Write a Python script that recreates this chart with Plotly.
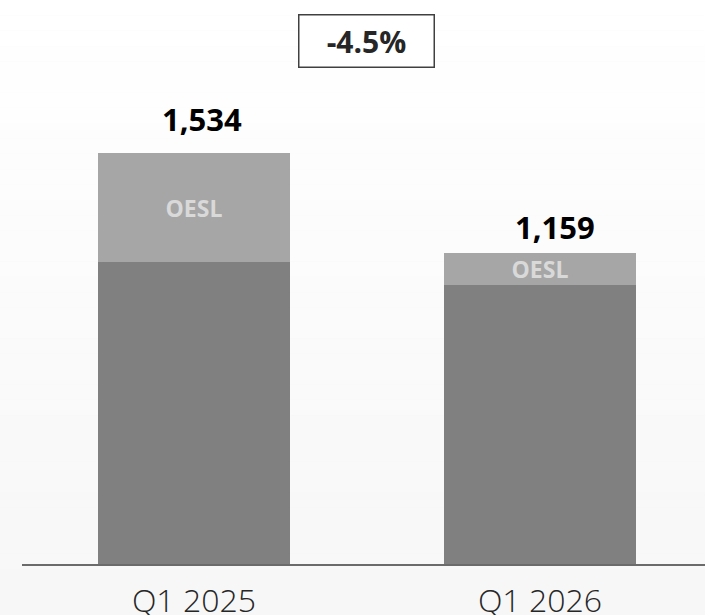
import plotly.graph_objects as go

# values
quarters = ["Q1 2025", "Q1 2026"]
core = [1127, 1040]
oesl = [407, 119]
totals = [1534, 1159]
change_label = "-4.5%"

W, H = 705, 615
FONT = "Open Sans"

fig = go.Figure()
fig.add_trace(go.Bar(
    x=quarters, y=core, name="core",
    marker=dict(color="#808080", line=dict(width=0)),
    width=0.555, hoverinfo="skip",
))
fig.add_trace(go.Bar(
    x=quarters, y=oesl, name="OESL",
    marker=dict(color="#a6a6a6", line=dict(width=0)),
    width=0.555, text=["OESL"] * len(quarters),
    textposition="inside", insidetextanchor="middle",
    textfont=dict(family=FONT, size=23, color="#d9d9d9", weight="bold"),
    hoverinfo="skip",
))

# total labels above each stack
label_dx = [8, 15]
label_dy = [11, 3]
for i, q in enumerate(quarters):
    fig.add_annotation(
        x=q, y=totals[i], text=f"{totals[i]:,}", showarrow=False,
        yanchor="bottom", xshift=label_dx[i], yshift=label_dy[i],
        font=dict(family=FONT, size=31, color="#000000", weight="bold"),
    )

# change box between the bars
fig.add_annotation(
    x=0.5, xref="x", y=(564 - 41.5) / 564, yref="paper",
    xanchor="center", yanchor="middle",
    text=change_label, showarrow=False,
    font=dict(family=FONT, size=30, color="#262626", weight="bold"),
    bordercolor="#404040", borderwidth=1.5, borderpad=2,
    bgcolor="#ffffff", width=130, height=47,
)

# soft vertical gradient in the background
n_bands = 40
for k in range(n_bands):
    c = round(255 - 8 * k / (n_bands - 1))
    fig.add_shape(
        type="rect", xref="paper", yref="paper", layer="below",
        x0=-0.1, x1=1.1,
        y0=1 - (k + 1) / n_bands * (H / 564), y1=1 - k / n_bands * (H / 564),
        fillcolor=f"rgb({c},{c},{c})", line=dict(width=0),
    )

fig.update_layout(
    width=W, height=H,
    barmode="stack", showlegend=False,
    margin=dict(l=22, r=0, t=0, b=51),
    paper_bgcolor="#f7f7f7", plot_bgcolor="rgba(0,0,0,0)",
    uniformtext=dict(minsize=23, mode="show"),
    xaxis=dict(
        range=[-0.497, 1.477], showgrid=False, zeroline=False,
        showline=True, linecolor="#6b6b6b", linewidth=2,
        ticks="", ticklabelstandoff=8, automargin=False,
        tickfont=dict(family=FONT, size=32, color="#262626", weight=300),
        fixedrange=True,
    ),
    yaxis=dict(
        range=[0, 564 * 1534 / 411], visible=False, showgrid=False,
        zeroline=False, fixedrange=True, automargin=False,
    ),
)

fig.write_html(
    "out.html",
    config={"displayModeBar": False},
    post_script="document.body.style.margin='0';",
)
